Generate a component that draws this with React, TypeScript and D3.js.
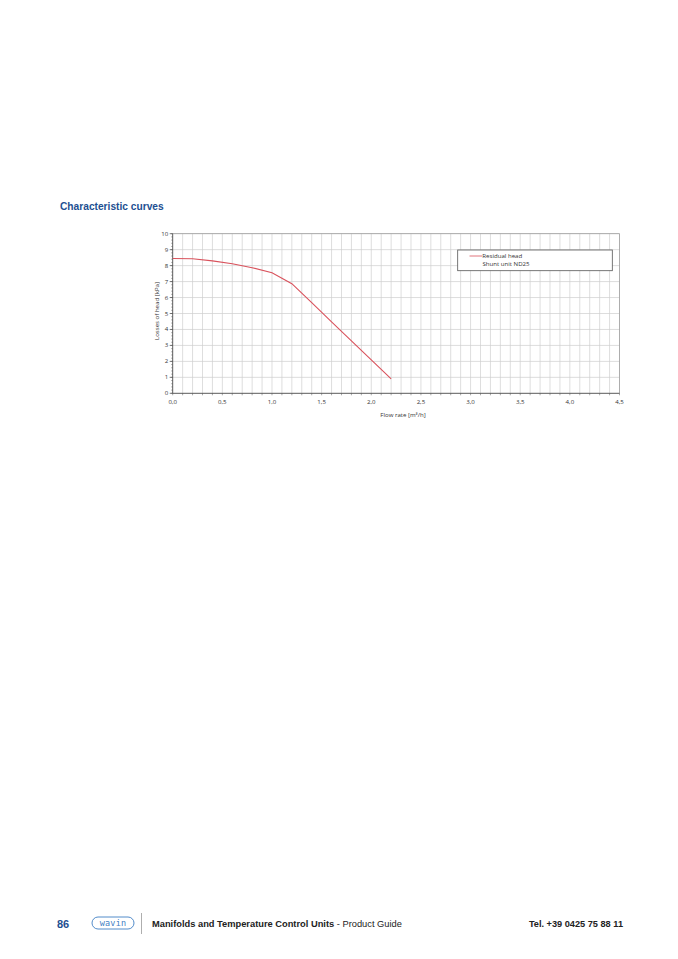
import React from "react";
import * as d3 from "d3";

// Residual head of shunt unit ND25: flow rate [m³/h] vs head [kPa]
const flowRate = [0.0, 0.2, 0.4, 0.6, 0.8, 1.0, 1.2, 1.4, 1.6, 1.8, 2.0, 2.2];
const residualHead = [8.45, 8.43, 8.3, 8.12, 7.87, 7.55, 6.87, 5.68, 4.48, 3.29, 2.09, 0.9];

const xTickLabels = ["0,0", "0,5", "1,0", "1,5", "2,0", "2,5", "3,0", "3,5", "4,0", "4,5"];
const xTickValues = [0, 0.5, 1, 1.5, 2, 2.5, 3, 3.5, 4, 4.5];
const yTickValues = [0, 1, 2, 3, 4, 5, 6, 7, 8, 9, 10];
const legendLines = ["Residual head", "Shunt unit ND25"];

const W = 678;
const H = 959;
const plot = { left: 172.7, right: 619.5, top: 233.7, bottom: 393.3 };
const blue = "#1d4f91";
const red = "#d9525c";
const font = "Liberation Sans";
const labelFont = "Open Sans";

export default function App() {
  const x = d3.scaleLinear().domain([0, 4.5]).range([plot.left, plot.right]);
  const y = d3.scaleLinear().domain([0, 10]).range([plot.bottom, plot.top]);

  const vGrid = d3.range(1, 46).map((i) => i / 10);
  const xMinor = d3.range(0, 46).map((i) => i / 10);
  const yMinor = d3.range(0, 51).map((i) => i / 5);

  const line = d3
    .line<number>()
    .x((_, i) => x(flowRate[i]))
    .y((d) => y(d));

  return (
    <svg
      width={W}
      height={H}
      viewBox={`0 0 ${W} ${H}`}
      style={{ position: "absolute", left: 0, top: 0, background: "#fff" }}
    >
      <rect x={0} y={0} width={W} height={H} fill="#fff" />

      <text x={60} y={210} fontFamily={font} fontWeight="bold" fontSize={10.2} fill={blue}>
        Characteristic curves
      </text>

      {/* grid */}
      <g stroke="#cfcfcf" strokeWidth={0.7}>
        {vGrid.map((v) => (
          <line key={"v" + v} x1={x(v)} x2={x(v)} y1={plot.top} y2={plot.bottom} />
        ))}
        {yTickValues.slice(1).map((v) => (
          <line key={"h" + v} x1={plot.left} x2={plot.right} y1={y(v)} y2={y(v)} />
        ))}
      </g>
      <rect
        x={plot.left}
        y={plot.top}
        width={plot.right - plot.left}
        height={plot.bottom - plot.top}
        fill="none"
        stroke="#999"
        strokeWidth={0.7}
      />

      {/* axes */}
      <g stroke="#555" strokeWidth={0.8}>
        <line x1={plot.left} x2={plot.left} y1={plot.top} y2={plot.bottom} />
        <line x1={plot.left} x2={plot.right} y1={plot.bottom} y2={plot.bottom} />
        {yTickValues.map((v) => (
          <line key={"yt" + v} x1={plot.left - 3} x2={plot.left} y1={y(v)} y2={y(v)} />
        ))}
        {yMinor.map((v) => (
          <line key={"ym" + v} x1={plot.left - 1.5} x2={plot.left} y1={y(v)} y2={y(v)} strokeWidth={0.5} />
        ))}
        {xMinor.map((v) => (
          <line key={"xm" + v} x1={x(v)} x2={x(v)} y1={plot.bottom} y2={plot.bottom + 2} strokeWidth={0.5} />
        ))}
      </g>

      <g fontFamily={labelFont} fontSize={6.1} fill="#333">
        {yTickValues.map((v) => (
          <text key={"yl" + v} x={plot.left - 4.5} y={y(v) + 2} textAnchor="end">
            {v}
          </text>
        ))}
        {xTickValues.map((v, i) => (
          <text key={"xl" + v} x={x(v)} y={plot.bottom + 11} textAnchor="middle">
            {xTickLabels[i]}
          </text>
        ))}
        <text x={403} y={plot.bottom + 24} textAnchor="middle">
          Flow rate [m³/h]
        </text>
        <text
          transform={`translate(${158.5},${311}) rotate(-90)`}
          textAnchor="middle"
        >
          Losses of head [kPa]
        </text>
      </g>

      <path d={line(residualHead) ?? ""} fill="none" stroke={red} strokeWidth={1.1} />

      {/* legend */}
      <rect x={457.7} y={250} width={154.6} height={20.7} fill="#fff" stroke="#555" strokeWidth={0.8} />
      <line x1={469.5} x2={482} y1={256} y2={256} stroke={red} strokeWidth={0.8} />
      <g fontFamily={labelFont} fontSize={6.1} fill="#333">
        <text x={482.3} y={258}>{legendLines[0]}</text>
        <text x={482.5} y={266.3}>{legendLines[1]}</text>
      </g>

      {/* footer */}
      <text x={57} y={927.5} fontFamily={font} fontWeight="bold" fontSize={11} fill={blue}>
        86
      </text>
      <rect x={92} y={917} width={42} height={12} rx={6} fill="none" stroke="#3f7fc4" strokeWidth={0.9} />
      <text
        x={113}
        y={926}
        textAnchor="middle"
        fontFamily="DejaVu Sans Mono"
        fontSize={8.5}
        fill="#3f7fc4"
        letterSpacing={0.2}
      >
        wavin
      </text>
      <line x1={141.5} x2={141.5} y1={913} y2={934} stroke="#999" strokeWidth={0.8} />
      <text x={152} y={926.5} fontFamily={font} fontSize={9.3} fill="#222">
        <tspan fontWeight="bold">Manifolds and Temperature Control Units</tspan>
        <tspan>  - Product  Guide</tspan>
      </text>
      <text x={623} y={926.5} textAnchor="end" fontFamily={font} fontWeight="bold" fontSize={9.2} fill="#222">
        Tel. +39 0425 75 88 11
      </text>
    </svg>
  );
}
